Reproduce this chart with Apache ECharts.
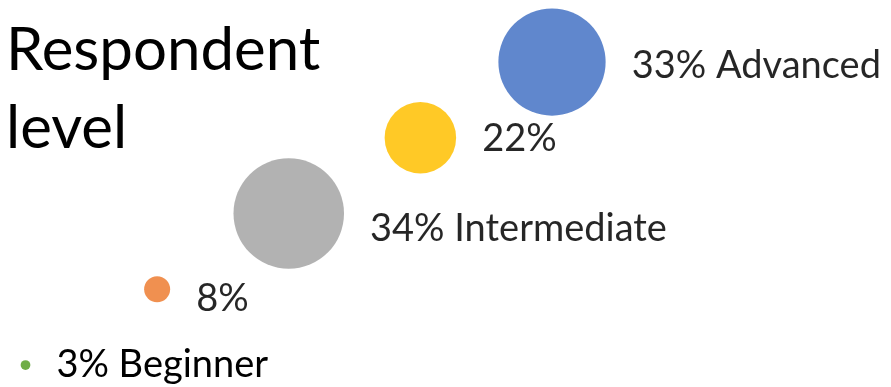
<!DOCTYPE html>
<html>
<head>
<meta charset="utf-8">
<script src="https://cdn.jsdelivr.net/npm/echarts@6/dist/echarts.min.js"></script>
<style>
  html, body { margin: 0; padding: 0; background: #ffffff; }
  #chart { width: 891px; height: 387px; }
</style>
</head>
<body>
<div id="chart"></div>
<script>
// Respondent level: share of respondents per level, drawn as a bubble chart
const levelNames = ['Beginner', '', 'Intermediate', '', 'Advanced'];
const shares = [3, 8, 34, 22, 33];            // percent of respondents
const xValues = [1, 2, 3, 4, 5];
const yValues = [1, 2, 3, 4, 5];

// bubble colours and the vertical nudge of each label
const colors = ['#70ad47', '#ed7d31', '#a5a5a5', '#ffc000', '#4472c4'];
const labelNudge = [0, 9, 15, 1, 4];

const FONT = 'Lato, "Open Sans", sans-serif';

const points = shares.map((v, i) => ({
  value: [xValues[i], yValues[i], v],
  itemStyle: { color: colors[i], opacity: i === 0 ? 1 : 0.85 },
  label: { offset: [0, labelNudge[i]] }
}));

const chart = echarts.init(document.getElementById('chart'), null, { renderer: 'canvas' });
chart.setOption({
  animation: false,
  backgroundColor: '#ffffff',
  title: {
    text: 'Respondent\nlevel',
    left: 1,
    top: 7,
    textStyle: {
      fontFamily: FONT,
      fontSize: 60,
      fontWeight: 'normal',
      color: '#000000',
      lineHeight: 78
    }
  },
  grid: { left: 25.5, right: 339, top: 62, bottom: 22 },
  xAxis: { type: 'value', min: 1, max: 5, show: false },
  yAxis: { type: 'value', min: 1, max: 5, show: false },
  series: [{
    type: 'scatter',
    data: points,
    symbolSize: d => d[2] * 3.25,
    label: {
      show: true,
      position: 'right',
      distance: 26,
      fontFamily: FONT,
      fontSize: 38,
      color: '#000000',
      formatter: p => {
        const name = levelNames[p.dataIndex];
        return p.value[2] + '%' + (name ? ' ' + name : '');
      }
    },
    emphasis: { disabled: true }
  }]
});
</script>
</body>
</html>
